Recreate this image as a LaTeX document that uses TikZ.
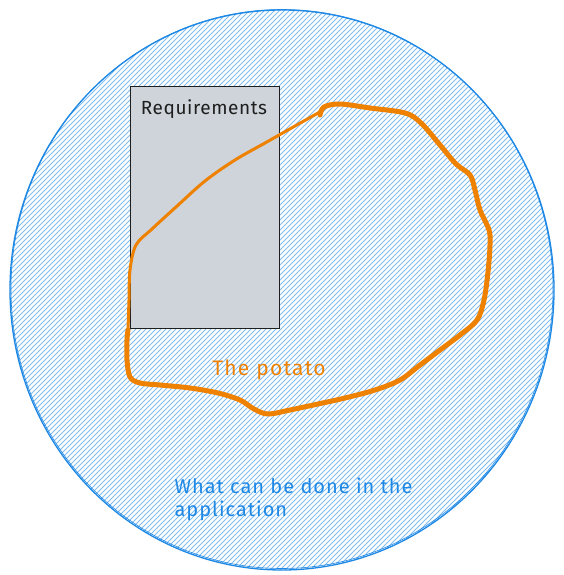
\documentclass[tikz,border=0pt]{standalone}
\usepackage{fontspec}
\setmainfont{Fira Sans}
\usepackage{tikz}
\usetikzlibrary{positioning}
\usepackage{xcolor}
\definecolor{skyline}{HTML}{1E88E5}
\definecolor{skyhatch}{HTML}{82BDF2}
\definecolor{potato}{HTML}{EE8100}
\definecolor{paper}{HTML}{CED4DA}
\definecolor{ink}{HTML}{1E1E1E}

\tikzset{
  reqbox/.style={draw=ink, fill=paper, line width=1.3pt, inner sep=0pt, anchor=north west},
  hatch/.style={skyhatch, line width=0.9pt},
  potatoline/.style={potato, line cap=round, line join=round},
}

\begin{document}
\begin{tikzpicture}[x=1pt, y=-1pt]
                \useasboundingbox (0,0) rectangle (563,575);
                % 1. Application space: hatched circle
                \coordinate (app) at (282,290);
                \begin{scope}
                    \path[clip] (app) ellipse [x radius=272, y radius=280];
                    \foreach \x in {-580,-575,...,570}
                        \draw[hatch] (\x,580) -- ++(580,-580);
                \end{scope}
                \draw[skyline, line width=1.3pt] (app) ellipse [x radius=272, y radius=280];
                \draw[skyline, line width=0.6pt] (282,289) ellipse [x radius=271, y radius=279.5];

                % 2. Requirements box
                \node[reqbox, minimum width=149, minimum height=242] (req) at (130,86) {};
                \node[font=\fontsize{19}{22}\selectfont\addfontfeatures{LetterSpace=3}, text=ink] (reqtitle) at (204,109) {Requirements};

                % 3. The potato
                \draw[potatoline, line width=3pt] plot[smooth, tension=0.55] coordinates {
                    (128,330) (129,300) (130,270) (136,245) (152,229) (176,207) (205,181)
                    (235,160) (265,143) (295,126) (318,113) (322,110)};
                \draw[potatoline, line width=5pt] plot[smooth, tension=0.55] coordinates {
                    (320,115) (324,107) (340,104) (370,108) (405,113) (421,123) (440,145)
                    (456,164) (470,175) (475,190) (480,210) (489,230) (490,245) (488,272)
                    (484,300) (477,320) (460,335) (440,350) (420,365) (400,380) (375,390)
                    (345,398) (318,404) (290,410) (268,414) (254,409) (240,400) (218,393)
                    (190,388) (160,385) (140,383) (130,377) (127,360) (127,340) (128,330)};
                \node[font=\fontsize{21}{24}\selectfont\addfontfeatures{LetterSpace=6}, text=potato] (potatolabel) at (269,370) {The potato};

                % 4. Caption
                \node[font=\fontsize{20}{23.5}\selectfont\addfontfeatures{LetterSpace=5}, text=skyline, align=left, anchor=north west] (caption) at (171,474)
                    {What can be done in the\\application};
\end{tikzpicture}
\end{document}
